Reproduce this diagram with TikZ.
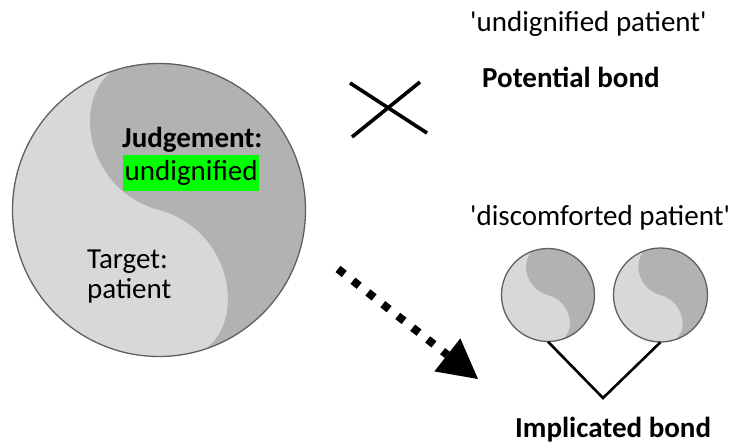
\documentclass[tikz,border=0pt]{standalone}
\usepackage{fontspec}
\setmainfont{Carlito}
\usetikzlibrary{arrows.meta}

\definecolor{yylight}{HTML}{D8D8D8}
\definecolor{yydark}{HTML}{B2B2B2}
\definecolor{yyrim}{HTML}{606060}
\definecolor{hlgreen}{RGB}{0,255,0}

\tikzset{
  rim/.style={draw=yyrim, line width=1.3pt},
  label/.style={inner sep=0pt, font=\fontsize{29}{34}\selectfont, anchor=base west},
  boldlabel/.style={label, font=\fontsize{29}{34}\selectfont\bfseries},
  disc/.style={circle, inner sep=0pt},
  bondline/.style={line width=2.6pt, line join=miter},
  crossline/.style={line width=3.6pt},
  % two-tone disc of unit radius, darker part on the upper right
  pics/yinyang/.style={code={
    \begin{scope}
      \clip (0,0) circle[radius=1];
      \fill[yylight] (-1.1,-1.1) rectangle (1.1,1.1);
      \fill[yydark] (-0.313,-0.952) -- (-0.313,-1.3) -- (1.3,-1.3) -- (1.3,1.3)
        -- (0.313,1.3) -- (0.313,0.952)
        .. controls (0.599,0.748) and (0.497,0.136) .. (0,0)
        .. controls (-0.497,-0.136) and (-0.599,-0.748) .. (-0.313,-0.952) -- cycle;
    \end{scope}
    \draw[rim] (0,0) circle[radius=1];
  }}
}

\begin{document}
\begin{tikzpicture}[x=1pt, y=-1pt]
\useasboundingbox (0,0) rectangle (745,444);

% large disc
\node[disc, minimum size=293pt] (big) at (159,210) {};
\pic[scale=146.5] at (big.center) {yinyang};
\node[boldlabel] (judge) at (122,147) {Judgement:};
\node[inner sep=0pt, fill=hlgreen, minimum width=136pt, minimum height=36pt,
      anchor=north west, font=\fontsize{29}{34}\selectfont] (verdict) at (123,155) {undignified};
\node[label] (target) at (87,268) {Target:};
\node[label] (patient) at (87,298) {patient};

% upper right: ruled-out bond
\node[label] (undig) at (470,32) {\textquotesingle undignified patient\textquotesingle};
\node[boldlabel] (potential) at (482,88) {Potential bond};
\draw[crossline] (350,83) -- (427,133);
\draw[crossline] (352,137) -- (420,82);

% dotted arrow
\coordinate (arrowstart) at (338,269);
\coordinate (arrowtip) at (478,379);
\draw[line width=8pt, dash pattern=on 8pt off 11pt,
      -{Triangle[length=39pt, width=42pt, line width=0pt]}]
  (arrowstart) -- (arrowtip);

% lower right: implicated bond
\node[label] (discomf) at (470,225) {\textquotesingle discomforted patient\textquotesingle};
\node[disc, minimum size=93pt] (left) at (548,295) {};
\node[disc, minimum size=94pt] (right) at (660.5,295) {};
\pic[scale=46.5] at (left.center) {yinyang};
\pic[scale=47] at (right.center) {yinyang};
\coordinate (vertex) at (603,398);
\draw[bondline] (left.south) -- (vertex) -- (right.south);
\node[boldlabel] (implicated) at (515,437) {Implicated bond};
\end{tikzpicture}
\end{document}
